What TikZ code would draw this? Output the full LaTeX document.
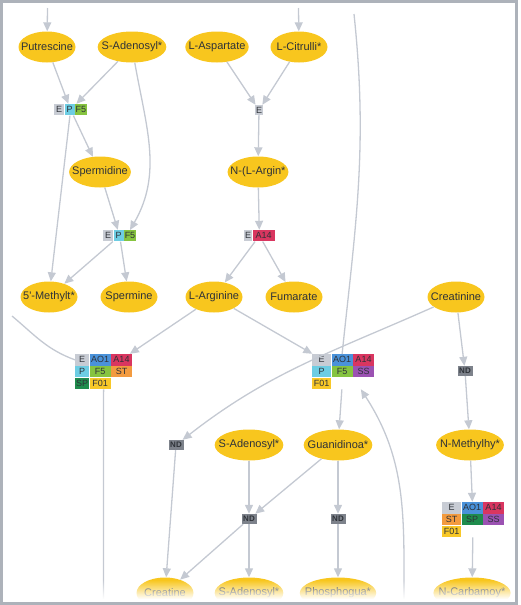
\documentclass[tikz,border=0pt]{standalone}
\usepackage{fontspec}
\setmainfont{Liberation Sans}
\usetikzlibrary{positioning, shapes.geometric, arrows.meta, fit, fadings}

\definecolor{metyellow}{HTML}{F8C61E}
\definecolor{edgegray}{HTML}{C4C9D2}
\definecolor{framegray}{HTML}{ADB2BA}
\definecolor{textdark}{HTML}{2E3238}
\definecolor{cE}{HTML}{C8CCD4}
\definecolor{cP}{HTML}{6DCDE3}
\definecolor{cF5}{HTML}{86C440}
\definecolor{cAO}{HTML}{4A92DA}
\definecolor{cA14}{HTML}{D93660}
\definecolor{cST}{HTML}{F39B40}
\definecolor{cSP}{HTML}{1F8C4D}
\definecolor{cF01}{HTML}{F8C828}
\definecolor{cSS}{HTML}{9B52B2}
\definecolor{cND}{HTML}{7D828B}

\tikzfading[name=fadebas, top color=transparent!100, bottom color=transparent!0]

\begin{document}
\begin{tikzpicture}[x=1pt, y=1pt, >={Triangle[length=9pt, width=8pt]},
	met/.style={ellipse, fill=metyellow, text=textdark, minimum width=57pt, minimum height=31pt, inner xsep=-6pt, inner ysep=0pt, font=\fontsize{11}{12}\selectfont},
	cell/.style={fill=#1, text=textdark, minimum height=11pt, inner sep=0pt, font=\fontsize{9}{10}\selectfont},
	nd/.style={fill=cND, text=textdark, minimum width=15pt, minimum height=10pt, inner sep=0pt, font=\fontsize{8}{9}\selectfont\bfseries},
	lien/.style={draw=edgegray, line width=1.3pt}]
		\useasboundingbox (0,0) rectangle (520,-605);
		\clip (0,0) rectangle (520,-605);
		
		% --- Metabolites ---
		\node[met] (putr) at (47,-47) {Putrescine};
		\node[met] (sadoA) at (132,-47) {S-Adenosyl*};
		\node[met] (lasp) at (217,-47) {L-Aspartate};
		\node[met] (lcit) at (299,-47) {L-Citrulli*};
		\node[met] (sperd) at (100,-172) {Spermidine};
		\node[met] (nlarg) at (258,-172) {N-(L-Argin*};
		\node[met] (methylt) at (49,-297) {5\textquotesingle-Methylt*};
		\node[met] (sperm) at (129,-297) {Spermine};
		\node[met] (larg) at (214,-297) {L-Arginine};
		\node[met] (fum) at (294,-297) {Fumarate};
		\node[met] (creat) at (456,-297) {Creatinine};
		\node[met] (sado2) at (249,-445) {S-Adenosyl*};
		\node[met] (guan) at (338,-445) {Guanidinoa*};
		\node[met] (nmeth) at (470,-445) {N-Methylhy*};
		\node[met] (creatine) at (165,-593) {Creatine};
		\node[met] (sado3) at (249,-593) {S-Adenosyl*};
		\node[met] (phos) at (338,-593) {Phosphogua*};
		\node[met] (ncarb) at (472,-593) {N-Carbamoy*};
		
		% --- Reactions (petites) ---
		\node[cell=cE, minimum width=10pt, anchor=north west] (b1e) at (54,-104) {E};
		\node[cell=cP, minimum width=10pt, right=0pt of b1e] (b1p) {P};
		\node[cell=cF5, minimum width=12pt, right=0pt of b1p] (b1f) {F5};
		\node[fit=(b1e)(b1f), inner sep=0pt] (rb1) {};
		
		\node[cell=cE, minimum width=10pt, anchor=north west] (b2e) at (103,-230) {E};
		\node[cell=cP, minimum width=10pt, right=0pt of b2e] (b2p) {P};
		\node[cell=cF5, minimum width=12pt, right=0pt of b2p] (b2f) {F5};
		\node[fit=(b2e)(b2f), inner sep=0pt] (rb2) {};
		
		\node[cell=cE, minimum width=8pt, minimum height=10pt] (rb0) at (259,-110) {E};
		
		\node[cell=cE, minimum width=8pt, anchor=north west] (b3e) at (244,-230) {E};
		\node[cell=cA14, minimum width=22pt, right=0pt of b3e] (b3a) {A14};
		\node[fit=(b3e)(b3a), inner sep=0pt] (rb3) {};
		
		% --- Reactions (grandes) ---
		\node[cell=cE, minimum width=14pt, minimum height=11.3pt, anchor=north west] (b4e) at (75,-354) {E};
		\node[cell=cAO, minimum width=21pt, minimum height=11.3pt, right=0pt of b4e] (b4ao) {AO1};
		\node[cell=cA14, minimum width=21pt, minimum height=11.3pt, right=0pt of b4ao] (b4a) {A14};
		\node[cell=cP, minimum width=14pt, minimum height=11.3pt, below=0pt of b4e] (b4p) {P};
		\node[cell=cF5, minimum width=21pt, minimum height=11.3pt, right=0pt of b4p] (b4f) {F5};
		\node[cell=cST, minimum width=21pt, minimum height=11.3pt, right=0pt of b4f] (b4st) {ST};
		\node[cell=cSP, minimum width=14pt, minimum height=11.3pt, below=0pt of b4p] (b4sp) {SP};
		\node[cell=cF01, minimum width=21pt, minimum height=11.3pt, right=0pt of b4sp] (b4o) {F01};
		\node[fit=(b4e)(b4a)(b4sp), inner sep=0pt] (rb4) {};
		
		\node[cell=cE, minimum width=19pt, minimum height=11.3pt, anchor=north west] (b5e) at (312,-354) {E};
		\node[cell=cAO, minimum width=21pt, minimum height=11.3pt, right=0pt of b5e] (b5ao) {AO1};
		\node[cell=cA14, minimum width=21pt, minimum height=11.3pt, right=0pt of b5ao] (b5a) {A14};
		\node[cell=cP, minimum width=19pt, minimum height=11.3pt, below=0pt of b5e] (b5p) {P};
		\node[cell=cF5, minimum width=21pt, minimum height=11.3pt, right=0pt of b5p] (b5f) {F5};
		\node[cell=cSS, minimum width=21pt, minimum height=11.3pt, right=0pt of b5f] (b5ss) {SS};
		\node[cell=cF01, minimum width=19pt, minimum height=11.3pt, below=0pt of b5p] (b5o) {F01};
		\node[fit=(b5e)(b5a)(b5o), inner sep=0pt] (rb5) {};
		
		\node[cell=cE, minimum width=19pt, minimum height=11.3pt, anchor=north west] (b6e) at (442,-502) {E};
		\node[cell=cAO, minimum width=21pt, minimum height=11.3pt, right=0pt of b6e] (b6ao) {AO1};
		\node[cell=cA14, minimum width=21pt, minimum height=11.3pt, right=0pt of b6ao] (b6a) {A14};
		\node[cell=cST, minimum width=19pt, minimum height=11.3pt, below=0pt of b6e] (b6st) {ST};
		\node[cell=cSP, minimum width=21pt, minimum height=11.3pt, right=0pt of b6st] (b6sp) {SP};
		\node[cell=cSS, minimum width=21pt, minimum height=11.3pt, right=0pt of b6sp] (b6ss) {SS};
		\node[cell=cF01, minimum width=19pt, minimum height=11.3pt, below=0pt of b6st] (b6o) {F01};
		\node[fit=(b6e)(b6a)(b6o), inner sep=0pt] (rb6) {};
		
		% --- Reactions ND ---
		\node[nd] (ndL) at (176,-445) {ND};
		\node[nd] (ndM) at (249,-519) {ND};
		\node[nd] (ndR) at (338,-519) {ND};
		\node[nd] (ndC) at (465,-371) {ND};
		
		% --- Extremites libres ---
		\coordinate (hautPutr) at (47.5,-8);
		\coordinate (hautCit) at (298.5,-8);
		\coordinate (hautB5) at (354,-14);
		\coordinate (gaucheB4) at (12,-316);
		\coordinate (basB4) at (103.5,-600);
		\coordinate (basB5) at (404,-600);
		
		% --- Liens droits ---
		\foreach \a/\b in {hautPutr/putr, hautCit/lcit, putr/rb1, sadoA/rb1, rb1/sperd, rb1/methylt, sperd/rb2, rb2/methylt, rb2/sperm, lasp/rb0, lcit/rb0, rb0/nlarg, nlarg/rb3, rb3/larg, rb3/fum, larg/rb4, larg/rb5, creat/ndC, ndC/nmeth, nmeth/rb6, rb6/ncarb, rb5/guan, guan/ndM, sado2/ndM, guan/ndR, ndM/creatine, ndM/sado3, ndR/phos, ndL/creatine} {
			\draw[lien, ->] (\a) -- (\b);
		}
		
		% --- Liens courbes ---
		\draw[lien, ->] (sadoA) to[out=-80, in=60] (b2f.north);
		\draw[lien, ->] (creat) to[out=204, in=38] (ndL);
		\draw[lien, ->] (basB5) to[out=90, in=-57] (rb5.-45);
		\draw[lien] (hautB5) to[out=-84, in=84] (b5ao.north);
		\draw[lien] (gaucheB4) to[out=-40, in=160] (b4e.west);
		\draw[lien] (rb4.south) -- (basB4);
		
		% --- Fondu du bas et cadre ---
		\fill[white, path fading=fadebas] (3,-580) rectangle (515,-599);
		\fill[white] (3,-599) rectangle (515,-603);
		\draw[framegray, line width=3pt] (1.5,-1.5) rectangle (516.5,-603.5);
	\end{tikzpicture}
\end{document}
